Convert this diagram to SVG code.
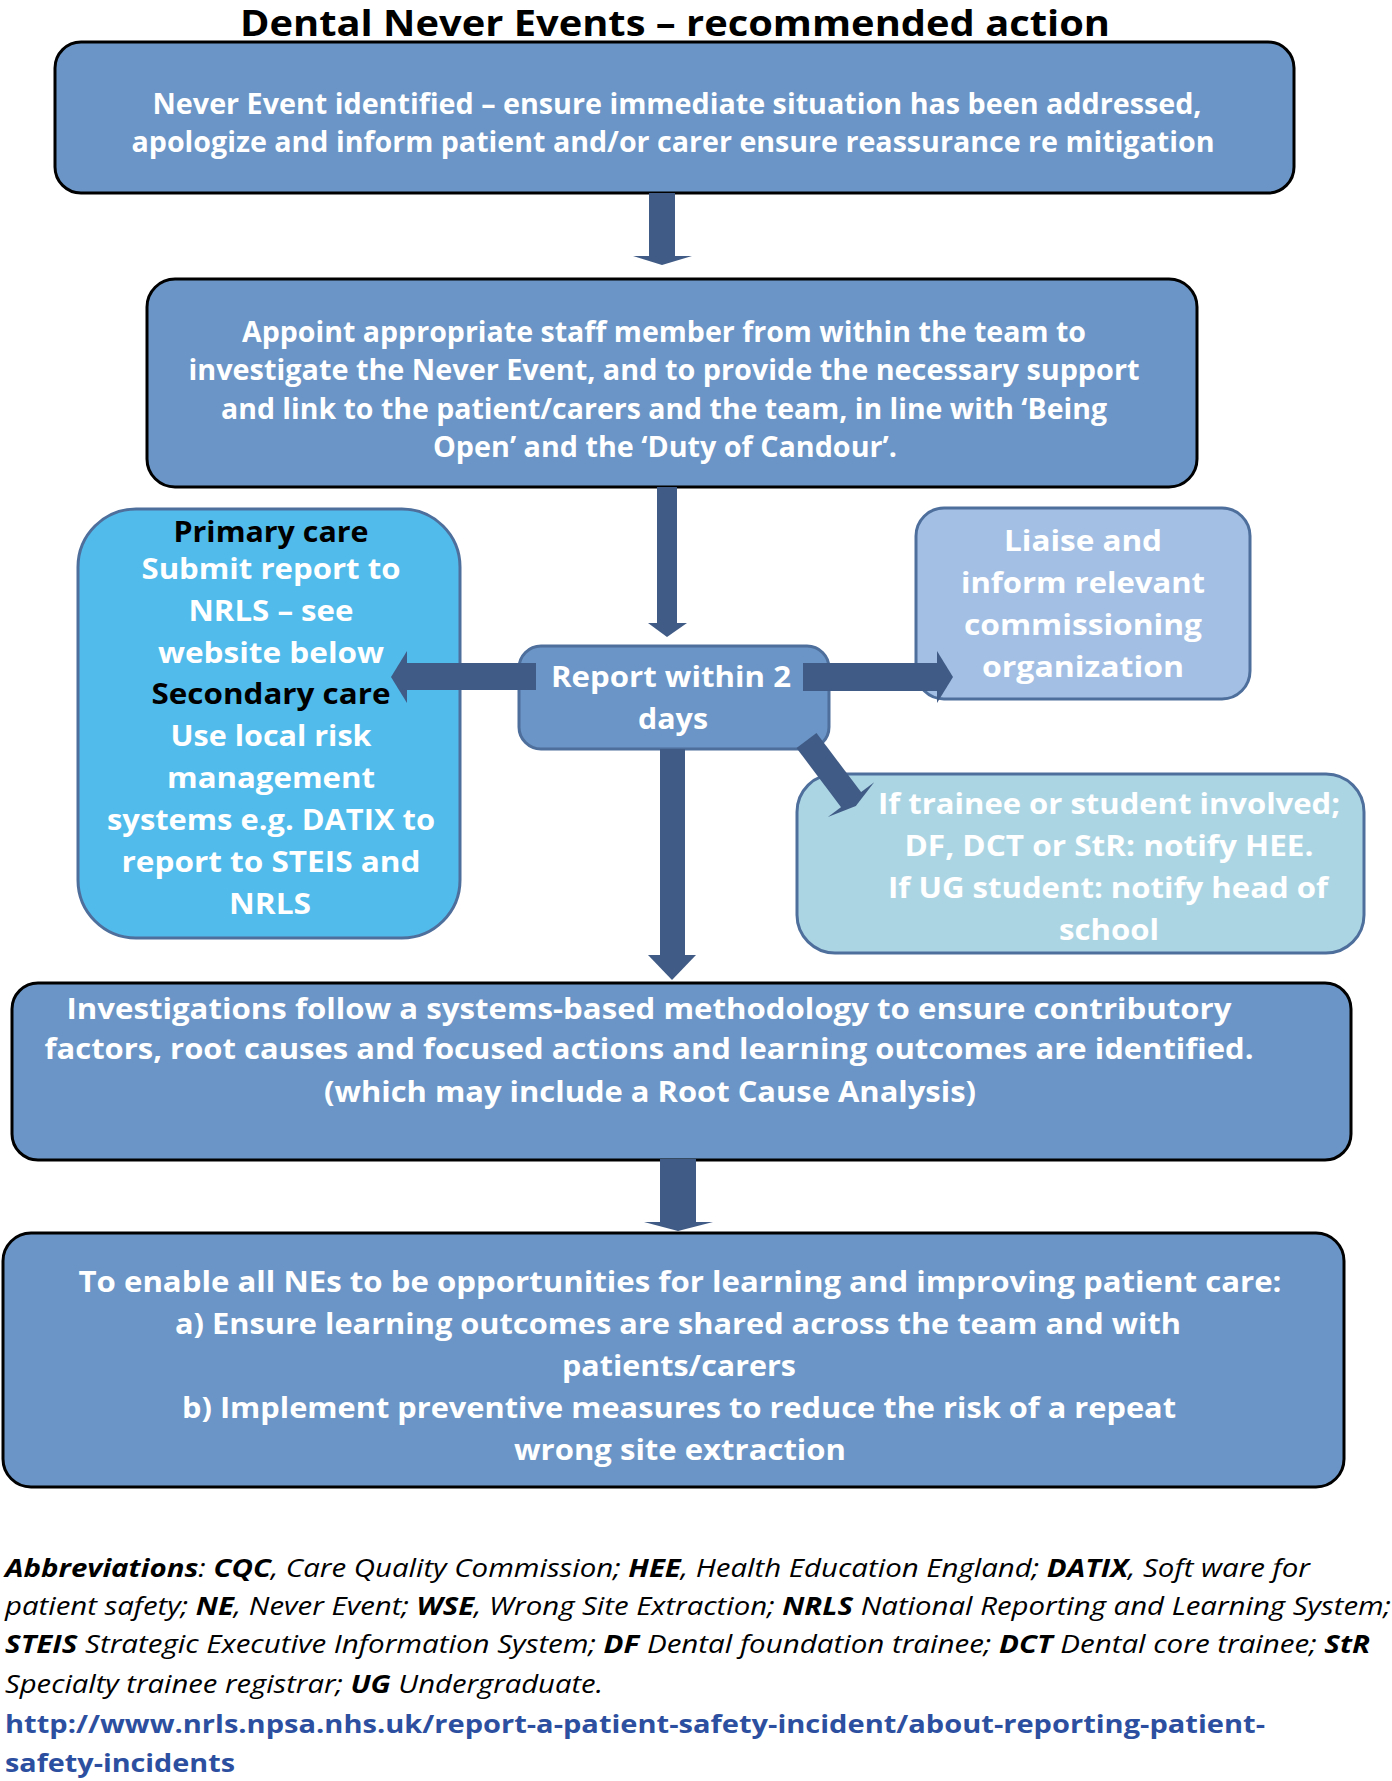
<svg xmlns="http://www.w3.org/2000/svg" width="1392" height="1781" viewBox="0 0 1392 1781">
<style>
text{font-family:"Open Sans","Noto Sans","Liberation Sans",sans-serif;}
.t{font-weight:700;fill:#fff;text-anchor:middle;font-size:28px;}
.t2{font-weight:700;fill:#fff;text-anchor:middle;font-size:29px;}
.blk{fill:#000;}
.main{fill:#6a95c6;stroke:#000;stroke-width:3;}
.sub{stroke:#4e6f9c;stroke-width:3;}
.arr{fill:#405b85;}
.ab{font-size:25px;font-style:italic;fill:#000;}
.b{font-weight:700;}
.lnk{font-size:25px;font-weight:700;fill:#2d4fa0;}
</style>
<rect width="1392" height="1781" fill="#fff"/>
<text x="675" y="36" font-size="36" font-weight="700" text-anchor="middle" fill="#000" textLength="870" lengthAdjust="spacingAndGlyphs">Dental Never Events – recommended action</text>

<g id="node-identified">
<rect class="main" x="55" y="42" width="1239" height="151" rx="26"/>
<text class="t" x="677" y="114" textLength="1049" lengthAdjust="spacingAndGlyphs">Never Event identified – ensure immediate situation has been addressed,</text>
<text class="t" x="673" y="152" textLength="1083" lengthAdjust="spacingAndGlyphs">apologize and inform patient and/or carer ensure reassurance re mitigation</text>
</g>

<g id="node-appoint">
<rect class="main" x="147" y="279" width="1050" height="208" rx="28"/>
<text class="t" x="664" y="342" textLength="844" lengthAdjust="spacingAndGlyphs">Appoint appropriate staff member from within the team to</text>
<text class="t" x="664" y="380" textLength="951" lengthAdjust="spacingAndGlyphs">investigate the Never Event, and to provide the necessary support</text>
<text class="t" x="664" y="419" textLength="886" lengthAdjust="spacingAndGlyphs">and link to the patient/carers and the team, in line with ‘Being</text>
<text class="t" x="665" y="457" textLength="464" lengthAdjust="spacingAndGlyphs">Open’ and the ‘Duty of Candour’.</text>
</g>

<g id="node-primary">
<rect class="sub" x="78" y="509" width="382" height="429" rx="58" fill="#51bbec"/>
<text class="t2 blk" x="271" y="542" textLength="195" lengthAdjust="spacingAndGlyphs">Primary care</text>
<text class="t2" x="271" y="579" textLength="259" lengthAdjust="spacingAndGlyphs">Submit report to</text>
<text class="t2" x="271" y="621" textLength="165" lengthAdjust="spacingAndGlyphs">NRLS – see</text>
<text class="t2" x="271" y="663" textLength="226" lengthAdjust="spacingAndGlyphs">website below</text>
<text class="t2 blk" x="271" y="704" textLength="239" lengthAdjust="spacingAndGlyphs">Secondary care</text>
<text class="t2" x="271" y="746" textLength="201" lengthAdjust="spacingAndGlyphs">Use local risk</text>
<text class="t2" x="271" y="788" textLength="208" lengthAdjust="spacingAndGlyphs">management</text>
<text class="t2" x="271" y="830" textLength="328" lengthAdjust="spacingAndGlyphs">systems e.g. DATIX to</text>
<text class="t2" x="271" y="872" textLength="299" lengthAdjust="spacingAndGlyphs">report to STEIS and</text>
<text class="t2" x="270" y="914" textLength="82" lengthAdjust="spacingAndGlyphs">NRLS</text>
</g>

<g id="node-liaise">
<rect class="sub" x="916" y="508" width="334" height="191" rx="28" fill="#a3bfe4"/>
<text class="t2" x="1083" y="551" textLength="158" lengthAdjust="spacingAndGlyphs">Liaise and</text>
<text class="t2" x="1083" y="593" textLength="244" lengthAdjust="spacingAndGlyphs">inform relevant</text>
<text class="t2" x="1083" y="635" textLength="238" lengthAdjust="spacingAndGlyphs">commissioning</text>
<text class="t2" x="1083" y="677" textLength="202" lengthAdjust="spacingAndGlyphs">organization</text>
</g>

<g id="node-report">
<rect class="sub" x="519" y="646" width="310" height="103" rx="22" fill="#6a95c6"/>
<text class="t2" x="671" y="687" textLength="240" lengthAdjust="spacingAndGlyphs">Report within 2</text>
<text class="t2" x="673" y="729" textLength="70" lengthAdjust="spacingAndGlyphs">days</text>
</g>

<g id="node-trainee">
<rect class="sub" x="797" y="774" width="567" height="179" rx="38" fill="#acd5e4"/>
<text class="t2" x="1109" y="814" textLength="462" lengthAdjust="spacingAndGlyphs">If trainee or student involved;</text>
<text class="t2" x="1109" y="856" textLength="409" lengthAdjust="spacingAndGlyphs">DF, DCT or StR: notify HEE.</text>
<text class="t2" x="1108" y="898" textLength="440" lengthAdjust="spacingAndGlyphs">If UG student: notify head of</text>
<text class="t2" x="1109" y="940" textLength="100" lengthAdjust="spacingAndGlyphs">school</text>
</g>

<g id="node-investigations">
<rect class="main" x="12" y="983" width="1339" height="177" rx="26"/>
<text class="t2" x="649" y="1019" textLength="1165" lengthAdjust="spacingAndGlyphs">Investigations follow a systems-based methodology to ensure contributory</text>
<text class="t2" x="649" y="1059" textLength="1209" lengthAdjust="spacingAndGlyphs">factors, root causes and focused actions and learning outcomes are identified.</text>
<text class="t2" x="650" y="1102" textLength="652" lengthAdjust="spacingAndGlyphs">(which may include a Root Cause Analysis)</text>
</g>

<g id="node-learning">
<rect class="main" x="3" y="1233" width="1341" height="254" rx="28"/>
<text class="t2" x="680" y="1292" textLength="1203" lengthAdjust="spacingAndGlyphs">To enable all NEs to be opportunities for learning and improving patient care:</text>
<text class="t2" x="678" y="1334" textLength="1006" lengthAdjust="spacingAndGlyphs">a) Ensure learning outcomes are shared across the team and with</text>
<text class="t2" x="679" y="1376" textLength="234" lengthAdjust="spacingAndGlyphs">patients/carers</text>
<text class="t2" x="679" y="1418" textLength="994" lengthAdjust="spacingAndGlyphs">b) Implement preventive measures to reduce the risk of a repeat</text>
<text class="t2" x="680" y="1460" textLength="332" lengthAdjust="spacingAndGlyphs">wrong site extraction</text>
</g>

<g id="connectors" class="arr">
<rect x="649" y="193" width="26" height="64"/>
<polygon points="633,256 692,256 662,265"/>
<rect x="657" y="487" width="20" height="137"/>
<polygon points="648,623 687,623 667,637"/>
<rect x="407" y="663" width="129" height="27"/>
<polygon points="407,651 407,703 391,677"/>
<rect x="803" y="663" width="134" height="28"/>
<polygon points="937,651 937,703 953,677"/>
<g transform="translate(806.5,740.5) rotate(53)">
<rect x="0" y="-12.5" width="75" height="25"/>
<polygon points="74,-29 74,29 82,0"/>
</g>
<rect x="660" y="749" width="25" height="207"/>
<polygon points="648,955 696,955 672,980"/>
<rect x="660" y="1159" width="36" height="64"/>
<polygon points="644,1222 713,1222 678,1231"/>
</g>

<g id="footnote">
<text class="ab" x="5" y="1577" textLength="1305" lengthAdjust="spacingAndGlyphs"><tspan class="b">Abbreviations</tspan>: <tspan class="b">CQC</tspan>, Care Quality Commission; <tspan class="b">HEE</tspan>, Health Education England; <tspan class="b">DATIX</tspan>, Soft ware for</text>
<text class="ab" x="5" y="1615" textLength="1386" lengthAdjust="spacingAndGlyphs">patient safety; <tspan class="b">NE</tspan>, Never Event; <tspan class="b">WSE</tspan>, Wrong Site Extraction; <tspan class="b">NRLS</tspan> National Reporting and Learning System;</text>
<text class="ab" x="5" y="1653" textLength="1365" lengthAdjust="spacingAndGlyphs"><tspan class="b">STEIS</tspan> Strategic Executive Information System; <tspan class="b">DF</tspan> Dental foundation trainee; <tspan class="b">DCT</tspan> Dental core trainee; <tspan class="b">StR</tspan></text>
<text class="ab" x="5" y="1693" textLength="598" lengthAdjust="spacingAndGlyphs">Specialty trainee registrar; <tspan class="b">UG</tspan> Undergraduate.</text>
<text class="lnk" x="5" y="1733" textLength="1260" lengthAdjust="spacingAndGlyphs">http://www.nrls.npsa.nhs.uk/report-a-patient-safety-incident/about-reporting-patient-</text>
<text class="lnk" x="5" y="1772" textLength="230" lengthAdjust="spacingAndGlyphs">safety-incidents</text>
</g>
</svg>
